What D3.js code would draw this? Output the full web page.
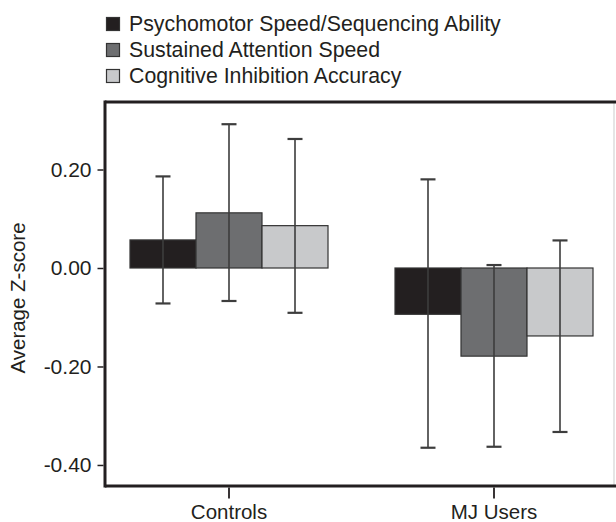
<!DOCTYPE html>
<html>
<head>
<meta charset="utf-8">
<script src="https://cdn.jsdelivr.net/npm/d3@7"></script>
<style>
html,body{margin:0;padding:0;background:#fff;}
svg{display:block;}
text{font-family:"Liberation Sans",Arial,Helvetica,sans-serif;fill:#231f20;}
</style>
</head>
<body>
<svg id="chart" width="616" height="522"></svg>
<script>
const groups = ["Controls", "MJ Users"];
const series = ["Psychomotor Speed/Sequencing Ability", "Sustained Attention Speed", "Cognitive Inhibition Accuracy"];
const colors = ["#231f20", "#6d6e70", "#c8c9cb"];
const means = [[0.057, 0.112, 0.086], [-0.094, -0.179, -0.138]];
const errHigh = [[0.186, 0.292, 0.262], [0.180, 0.006, 0.056]];
const errLow = [[-0.072, -0.067, -0.091], [-0.365, -0.363, -0.333]];
const yTicks = [0.20, 0.00, -0.20, -0.40];
const yTickLabels = ["0.20", "0.00", "-0.20", "-0.40"];
const yTitle = "Average Z-score";

(function () {
const svg = d3.select("#chart");
const pL = 105, pR = 614, pT = 102, pB = 486;

const y = d3.scaleLinear().domain([-0.4427, 0.3371]).range([pB, pT]);
const x0 = d3.scaleBand().domain(groups).range([96.5, 626.5]).paddingInner(0.2528).paddingOuter(0.1264);
const x1 = d3.scaleBand().domain(series).range([0, x0.bandwidth()]);
const color = d3.scaleOrdinal().domain(series).range(colors);

// frame: light right edge
svg.append("line").attr("x1", pR).attr("x2", pR).attr("y1", pT).attr("y2", pB)
  .attr("stroke", "#d4d4d4").attr("stroke-width", 1.2);

// bars
const data = [];
groups.forEach((g, gi) => series.forEach((s, si) => data.push({g, s, v: means[gi][si], hi: errHigh[gi][si], lo: errLow[gi][si]})));

const gBars = svg.append("g");
gBars.selectAll("rect").data(data).join("rect")
  .attr("x", d => x0(d.g) + x1(d.s))
  .attr("y", d => y(Math.max(0, d.v)))
  .attr("width", x1.bandwidth())
  .attr("height", d => Math.abs(y(d.v) - y(0)))
  .attr("fill", d => color(d.s))
  .attr("stroke", "#333")
  .attr("stroke-width", 1.2);

// error bars
const capW = 15;
const cx = d => x0(d.g) + x1(d.s) + x1.bandwidth() / 2;
const gErr = svg.append("g").attr("stroke", "#3d3d3d");
gErr.selectAll("line.v").data(data).join("line").attr("class", "v")
  .attr("x1", cx).attr("x2", cx)
  .attr("y1", d => y(d.hi)).attr("y2", d => y(d.lo))
  .attr("stroke-width", 1.6);
gErr.selectAll("line.hi").data(data).join("line").attr("class", "hi")
  .attr("x1", d => cx(d) - capW / 2).attr("x2", d => cx(d) + capW / 2)
  .attr("y1", d => y(d.hi)).attr("y2", d => y(d.hi))
  .attr("stroke-width", 2.2);
gErr.selectAll("line.lo").data(data).join("line").attr("class", "lo")
  .attr("x1", d => cx(d) - capW / 2).attr("x2", d => cx(d) + capW / 2)
  .attr("y1", d => y(d.lo)).attr("y2", d => y(d.lo))
  .attr("stroke-width", 2.2);

// frame thick lines
svg.append("line").attr("x1", pL).attr("x2", 616).attr("y1", pT).attr("y2", pT)
  .attr("stroke", "#231f20").attr("stroke-width", 3);
svg.append("line").attr("x1", pL).attr("x2", 616).attr("y1", pB).attr("y2", pB)
  .attr("stroke", "#231f20").attr("stroke-width", 3);
svg.append("line").attr("x1", pL).attr("x2", pL).attr("y1", pT - 1.5).attr("y2", pB + 1.5)
  .attr("stroke", "#231f20").attr("stroke-width", 3);

// y axis
const yAxis = svg.append("g").attr("transform", `translate(${pL - 1.5},0)`)
  .call(d3.axisLeft(y).tickValues(yTicks).tickFormat((d, i) => yTickLabels[i]).tickSize(6).tickPadding(6));
yAxis.select(".domain").remove();
yAxis.selectAll(".tick line").attr("stroke", "#231f20").attr("stroke-width", 1.5);
yAxis.selectAll(".tick text").attr("font-size", 21).attr("font-family", "Liberation Sans, Arial, sans-serif").attr("fill", "#231f20");

// x axis
const xAxis = svg.append("g").attr("transform", `translate(0,${pB + 1.5})`)
  .call(d3.axisBottom(x0).tickSize(11).tickPadding(6));
xAxis.select(".domain").remove();
xAxis.selectAll(".tick line").attr("stroke", "#231f20").attr("stroke-width", 1.8);
xAxis.selectAll(".tick text").attr("font-size", 20.5).attr("font-family", "Liberation Sans, Arial, sans-serif").attr("fill", "#231f20");

// y title
svg.append("text")
  .attr("transform", `translate(25,${(pT + pB) / 2 + 4}) rotate(-90)`)
  .attr("text-anchor", "middle")
  .attr("font-size", 20.5)
  .text(yTitle);

// legend
const leg = svg.append("g").selectAll("g").data(series).join("g")
  .attr("transform", (d, i) => `translate(106,${17 + i * 26})`);
leg.append("rect").attr("x", 0.5).attr("y", 0.5).attr("width", 13).attr("height", 13)
  .attr("fill", d => color(d)).attr("stroke", "#333").attr("stroke-width", 1.2);
leg.append("text").attr("x", 23).attr("y", 14).attr("font-size", 21.3).text(d => d);
})();
</script>
</body>
</html>
